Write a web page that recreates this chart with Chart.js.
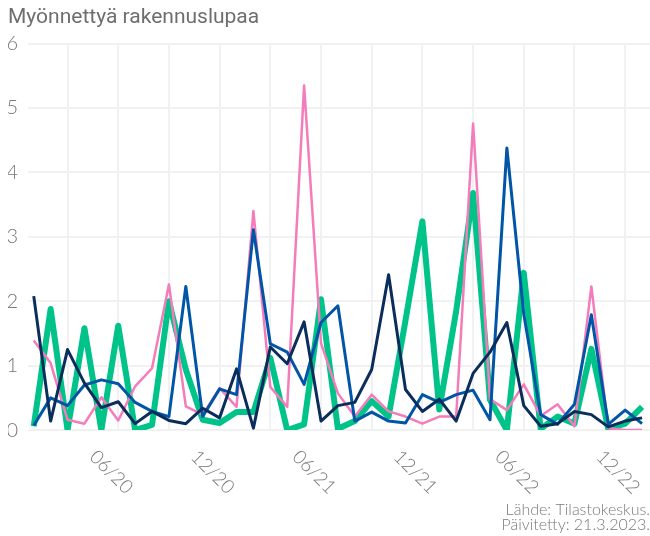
<!DOCTYPE html>
<html lang="fi">
<head>
<meta charset="utf-8">
<script src="https://cdn.jsdelivr.net/npm/chart.js@4"></script>
<style>
  html, body { margin: 0; padding: 0; background: #fff; }
</style>
</head>
<body>
<canvas id="permitChart" width="650" height="536"></canvas>
<script>
// Monthly data, Jan 2020 - Jan 2023
const months = [
  '2020-01', '2020-02', '2020-03', '2020-04', '2020-05', '2020-06', '2020-07', '2020-08', '2020-09', '2020-10', '2020-11', '2020-12',
  '2021-01', '2021-02', '2021-03', '2021-04', '2021-05', '2021-06', '2021-07', '2021-08', '2021-09', '2021-10', '2021-11', '2021-12',
  '2022-01', '2022-02', '2022-03', '2022-04', '2022-05', '2022-06', '2022-07', '2022-08', '2022-09', '2022-10', '2022-11', '2022-12',
  '2023-01'
];

const seriesGreen = [0.06, 1.88, 0, 1.58, 0, 1.62, 0, 0.08, 2.0, 0.94, 0.16, 0.11,
  0.28, 0.28, 1.12, 0, 0.09, 2.03, 0.02, 0.14, 0.45, 0.21, 1.7, 3.24,
  0.32, 1.85, 3.68, 0.47, 0, 2.44, 0.02, 0.21, 0.1, 1.26, 0.02, 0.1, 0.36];
const seriesPink = [1.39, 1.04, 0.16, 0.1, 0.51, 0.15, 0.68, 0.96, 2.26, 0.37, 0.24, 0.65,
  0.36, 3.4, 0.67, 0.36, 5.35, 1.35, 0.57, 0.21, 0.55, 0.29, 0.21, 0.1,
  0.21, 0.21, 4.76, 0.48, 0.31, 0.71, 0.22, 0.4, 0.06, 2.23, 0.03, 0, 0];
const seriesNavy = [2.08, 0.14, 1.25, 0.73, 0.35, 0.44, 0.1, 0.29, 0.15, 0.1, 0.34, 0.19,
  0.95, 0.03, 1.29, 1.03, 1.68, 0.14, 0.38, 0.43, 0.94, 2.41, 0.63, 0.29,
  0.48, 0.14, 0.88, 1.21, 1.67, 0.38, 0.06, 0.1, 0.29, 0.24, 0.05, 0.14, 0.19];
const seriesBlue = [0.07, 0.5, 0.38, 0.7, 0.78, 0.72, 0.43, 0.29, 0.21, 2.23, 0.21, 0.64,
  0.55, 3.11, 1.34, 1.21, 0.71, 1.67, 1.93, 0.14, 0.28, 0.14, 0.11, 0.55,
  0.43, 0.55, 0.62, 0.16, 4.38, 1.8, 0.24, 0.09, 0.4, 1.79, 0.09, 0.31, 0.1];

const tickMonths = ['2020-06', '2020-12', '2021-06', '2021-12', '2022-06', '2022-12'];
const tickLabels = ['06/20', '12/20', '06/21', '12/21', '06/22', '12/22'];
const yTicks = [0, 1, 2, 3, 4, 5, 6];

// vertical grid every quarter (Mar, Jun, Sep, Dec)
const gridIdx = months
  .map((m, i) => (parseInt(m.slice(5), 10) % 3 === 0 ? i : null))
  .filter(i => i !== null);

const toPoints = arr => arr.map((v, i) => ({ x: i, y: v }));

// rotated month labels under the x axis
const xLabelPlugin = {
  id: 'xLabels',
  afterDraw(chart) {
    const { ctx, chartArea } = chart;
    const x = chart.scales.x;
    ctx.save();
    ctx.font = '300 19px Lato';
    ctx.fillStyle = '#777777';
    ctx.textAlign = 'center';
    ctx.textBaseline = 'middle';
    tickMonths.forEach((m, i) => {
      const px = x.getPixelForValue(months.indexOf(m)) - 7;
      ctx.save();
      ctx.translate(px, chartArea.bottom + 42);
      ctx.rotate(Math.PI / 4);
      ctx.fillText(tickLabels[i], 0, 0);
      ctx.restore();
    });
    ctx.restore();
  }
};

const gridColor = '#f1f1f1';

new Chart(document.getElementById('permitChart'), {
  type: 'line',
  data: {
    datasets: [
      { label: 'Sarja 4', data: toPoints(seriesNavy), borderColor: '#0b2d5c', borderWidth: 3 },
      { label: 'Sarja 3', data: toPoints(seriesBlue), borderColor: '#0055a6', borderWidth: 3 },
      { label: 'Sarja 2', data: toPoints(seriesPink), borderColor: '#f47cbb', borderWidth: 2.5 },
      { label: 'Sarja 1', data: toPoints(seriesGreen), borderColor: '#00c389', borderWidth: 6 }
    ]
  },
  options: {
    responsive: false,
    animation: false,
    layout: { padding: { left: 8, right: 0, top: 0, bottom: 0 } },
    elements: {
      point: { radius: 0 },
      line: { tension: 0, fill: false, borderJoinStyle: 'round', borderCapStyle: 'butt' }
    },
    plugins: {
      legend: { display: false },
      tooltip: { enabled: false },
      title: {
        display: true,
        text: 'Myönnettyä rakennuslupaa',
        align: 'start',
        color: '#6e6e6e',
        font: { family: 'Roboto', size: 21, weight: 'normal' },
        padding: { top: 5, bottom: 13.3 }
      },
      subtitle: {
        display: true,
        position: 'bottom',
        align: 'end',
        text: ['Lähde: Tilastokeskus.', 'Päivitetty: 21.3.2023.'],
        color: '#7a7a7a',
        font: { family: 'Lato', size: 16, weight: 300, lineHeight: 0.95 },
        padding: { top: 0, bottom: 3.5 }
      }
    },
    scales: {
      x: {
        type: 'linear',
        min: -0.34,
        max: 36.47,
        ticks: { display: false },
        grid: { color: gridColor, lineWidth: 2, drawTicks: false },
        border: { display: false },
        afterBuildTicks: s => { s.ticks = gridIdx.map(v => ({ value: v })); },
        afterFit: s => { s.height = 72; }
      },
      y: {
        min: 0,
        max: 6,
        ticks: {
          stepSize: 1,
          padding: 10,
          color: '#777777',
          font: { family: 'Lato', size: 20, weight: 300 }
        },
        grid: { color: gridColor, lineWidth: 2, drawTicks: false },
        border: { display: false },
        afterBuildTicks: s => { s.ticks = yTicks.map(v => ({ value: v })); },
        afterFit: s => { s.width = 20; }
      }
    }
  },
  plugins: [xLabelPlugin]
});
</script>
</body>
</html>
